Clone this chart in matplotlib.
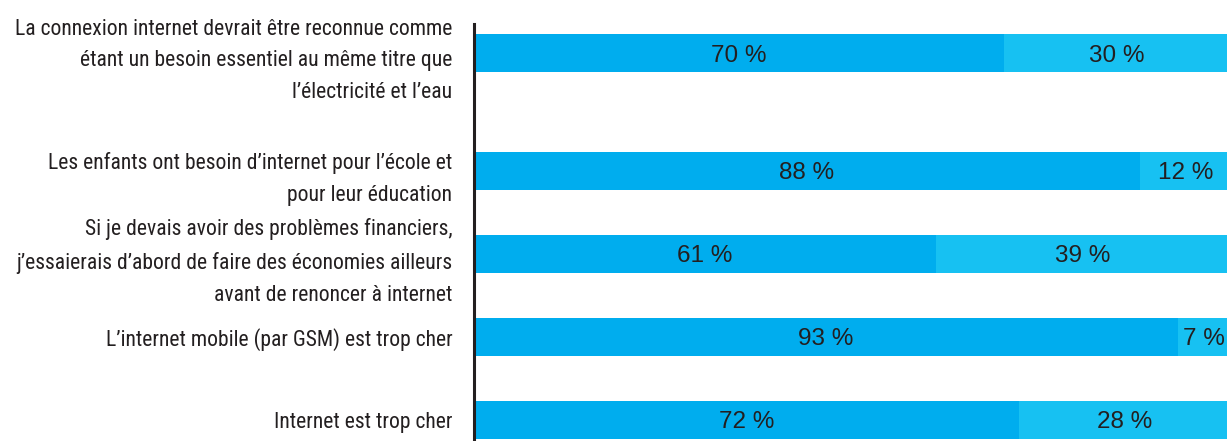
import matplotlib
matplotlib.use("Agg")
import matplotlib.pyplot as plt
from matplotlib import font_manager

categories = [
    "La connexion internet devrait être reconnue comme\nétant un besoin essentiel au même titre que\nl’électricité et l’eau",
    "Les enfants ont besoin d’internet pour l’école et\npour leur éducation",
    "Si je devais avoir des problèmes financiers,\nj’essaierais d’abord de faire des économies ailleurs\navant de renoncer à internet",
    "L’internet mobile (par GSM) est trop cher",
    "Internet est trop cher",
]
agree = [70, 88, 61, 93, 72]
disagree = [30, 12, 39, 7, 28]

names = {f.name for f in font_manager.fontManager.ttflist}
candidates = ["Roboto Condensed", "Archivo Narrow", "PT Sans Narrow", "IBM Plex Sans Condensed",
              "Sofia Sans Condensed", "Liberation Sans Narrow", "Roboto"]
narrow = next(c for c in candidates if c in names)

dark = "#00adee"
light = "#17c1f2"
txt = "#231f20"

W, H = 1227, 441
fig = plt.figure(figsize=(W / 100, H / 100), dpi=100)
left_px, right_px, top_px, bottom_px = 474, 1230.6, 24, 441
ax = fig.add_axes([left_px / W, 1 - bottom_px / H, (right_px - left_px) / W, (bottom_px - top_px) / H])

ypos = [0, 1.42, 2.42, 3.42, 4.42]
h = 0.46
ax.barh(ypos, agree, height=h, color=dark, left=0)
ax.barh(ypos, disagree, height=h, color=light, left=agree)

for y, a, d in zip(ypos, agree, disagree):
    ax.text(a / 2, y, f"{a} %", ha="center", va="center_baseline", fontsize=17.5,
            family="Liberation Sans", color=txt)
    ax.text(a + d / 2, y, f"{d} %", ha="center", va="center_baseline", fontsize=17.5,
            family="Liberation Sans", color=txt)

ax.set_xlim(0, 100)
ax.set_ylim(4.42 + 0.253, -0.35)
ax.set_yticks(ypos)
ax.set_yticklabels(categories, family=narrow, fontsize=15.6, color=txt, linespacing=1.68)
ax.tick_params(axis="y", length=0, pad=15.5)
ax.set_xticks([])
for s in ["top", "right", "bottom"]:
    ax.spines[s].set_visible(False)
ax.spines["left"].set_linewidth(2.2)
ax.spines["left"].set_color(txt)
ax.set_facecolor("none")

fig.savefig("out.png", dpi=100)
